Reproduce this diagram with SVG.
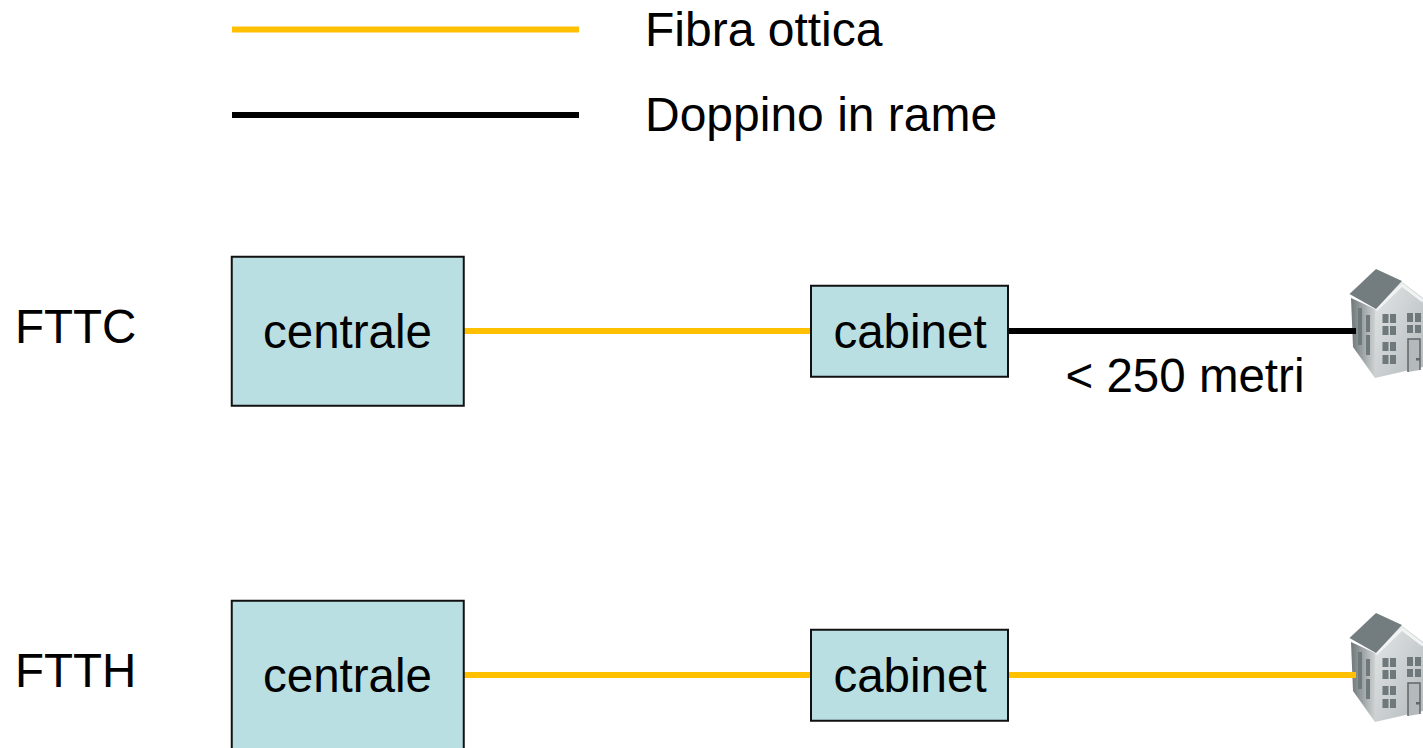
<svg xmlns="http://www.w3.org/2000/svg" width="1423" height="748" viewBox="0 0 1423 748">
<style>
text{font-family:"Liberation Sans",Arial,sans-serif;font-size:47.5px;fill:#000}
#legend text{font-size:48px}
.box{fill:#b9dfe3;stroke:#111;stroke-width:2}
.c{text-anchor:middle}
.f{stroke:#ffc000;stroke-width:6;fill:none}
.k{stroke:#000;stroke-width:6;fill:none}
.w{fill:#6f787a}
</style>
<defs>
<linearGradient id="front" x1="0" y1="0" x2="1" y2="1"><stop offset="0" stop-color="#e3e6e7"/><stop offset="1" stop-color="#b4babc"/></linearGradient>
<linearGradient id="side" x1="0" y1="0" x2="1" y2="0"><stop offset="0" stop-color="#6f7779"/><stop offset="1" stop-color="#cdd1d2"/></linearGradient>
<g id="house">
<polygon points="1351,298 1375,309 1375,378 1353,347" fill="url(#side)"/>
<polygon points="1375,309 1402,282 1423,298 1423,367 1375,378" fill="url(#front)"/>
<polyline points="1376,310 1402,285 1423,301" fill="none" stroke="#f2f4f4" stroke-width="3"/>
<polygon points="1349.500,294 1376,269 1402,281 1376,309" fill="#737c7e"/>
<g class="w">
<rect x="1358" y="308" width="4" height="37"/>
<rect x="1366" y="315" width="4" height="17"/><rect x="1366" y="335" width="4" height="20"/>
<rect x="1382.500" y="314" width="6" height="9"/><rect x="1390" y="314" width="6" height="9"/>
<rect x="1382.500" y="326" width="6" height="9"/><rect x="1390" y="326" width="6" height="9"/>
<rect x="1382.500" y="342" width="6" height="9"/><rect x="1390" y="342" width="6" height="9"/>
<rect x="1382.500" y="355" width="6" height="9"/><rect x="1390" y="355" width="6" height="9"/>
<rect x="1407" y="313" width="6" height="9"/><rect x="1415" y="313" width="6" height="9"/>
<rect x="1407" y="325" width="6" height="8"/><rect x="1415" y="325" width="6" height="8"/>
</g>
<path d="M1408,372V339H1420V370" fill="#b4babc" stroke="#5f6769" stroke-width="1.500"/>
<rect x="1416" y="358" width="4" height="2.500" fill="#5f6769"/>
</g>
</defs>

<g id="house-1"><use href="#house"/></g>
<g id="house-2"><use href="#house" y="344"/></g>

<g id="connectors">
<line class="f" x1="232" y1="29.500" x2="579" y2="29.500"/>
<line class="k" x1="232" y1="115" x2="579" y2="115"/>
<line class="f" x1="464" y1="331" x2="811" y2="331"/>
<line class="k" x1="1008" y1="331" x2="1356" y2="331"/>
<line class="f" x1="464" y1="675" x2="811" y2="675"/>
<line class="f" x1="1008" y1="675" x2="1356" y2="675"/>
</g>

<g id="legend">
<text x="645" y="46">Fibra ottica</text>
<text x="645" y="131">Doppino in rame</text>
</g>

<g id="label-fttc"><text x="15" y="343">FTTC</text></g>
<g id="label-ftth"><text x="15" y="687">FTTH</text></g>

<g id="centrale-1">
<rect class="box" x="231.750" y="256.750" width="232" height="149"/>
<text class="c" x="347.500" y="348">centrale</text>
</g>
<g id="cabinet-1">
<rect class="box" x="811" y="285.750" width="197" height="91"/>
<text class="c" x="910" y="348">cabinet</text>
</g>
<g id="label-distance"><text x="1065.500" y="392">&lt; 250 metri</text></g>

<g id="centrale-2">
<rect class="box" x="231.750" y="600.750" width="232" height="149"/>
<text class="c" x="347.500" y="692">centrale</text>
</g>
<g id="cabinet-2">
<rect class="box" x="811" y="629.750" width="197" height="91"/>
<text class="c" x="910" y="692">cabinet</text>
</g>
</svg>
